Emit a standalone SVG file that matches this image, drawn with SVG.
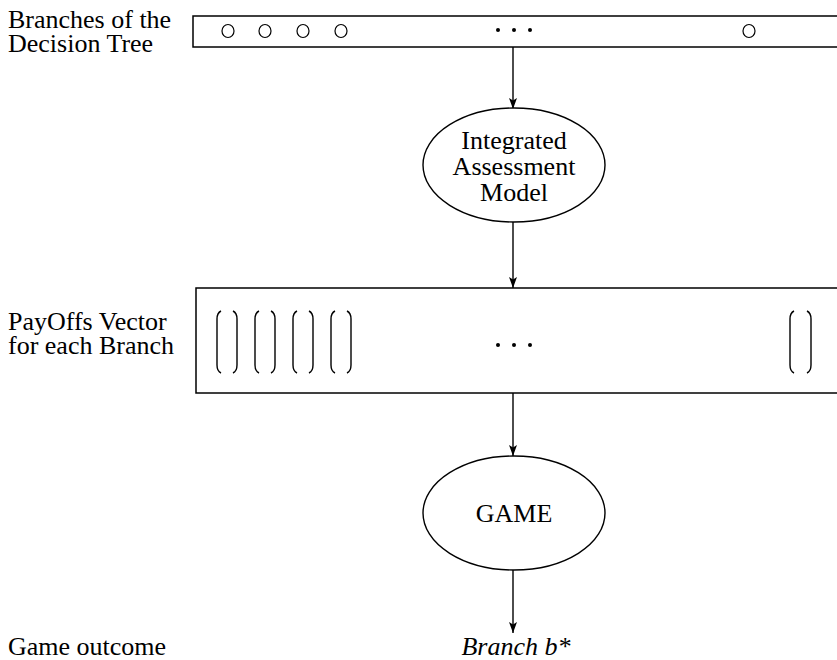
<svg xmlns="http://www.w3.org/2000/svg" width="837" height="660" viewBox="0 0 837 660">
<style>
text{font-family:"Liberation Serif","Times New Roman",serif;font-size:26px;fill:#000}
.c{text-anchor:middle}
.box{fill:#fff;stroke:#000;stroke-width:1.5}
.ell{fill:#fff;stroke:#000;stroke-width:1.4}
.circ{fill:none;stroke:#000;stroke-width:1.2}
.par{fill:none;stroke:#000;stroke-width:1.4}
.edge{stroke:#000;stroke-width:1.4;fill:none;marker-end:url(#arr)}
</style>
<defs>
<marker id="arr" markerWidth="12" markerHeight="12" viewBox="0 0 12 12" refX="11" refY="6" orient="auto" markerUnits="userSpaceOnUse">
<path d="M0,2 L11,6 L0,10 L2.5,6 Z" fill="#000"/>
</marker>
</defs>
<g id="labels">
<text x="8" y="28">Branches of the</text>
<text x="8" y="52">Decision Tree</text>
<text x="8" y="330">PayOffs Vector</text>
<text x="8" y="354">for each Branch</text>
<text x="8" y="655">Game outcome</text>
</g>
<g id="connectors">
<line class="edge" x1="513" y1="47" x2="513" y2="109"/>
<line class="edge" x1="513" y1="222" x2="513" y2="288"/>
<line class="edge" x1="513" y1="393" x2="513" y2="456"/>
<line class="edge" x1="513" y1="570" x2="513" y2="633"/>
</g>
<g id="branches">
<rect class="box" x="193" y="16" width="660" height="31"/>
<ellipse class="circ" cx="228" cy="31" rx="6" ry="6.5"/>
<ellipse class="circ" cx="265" cy="31" rx="6" ry="6.5"/>
<ellipse class="circ" cx="303" cy="31" rx="6" ry="6.5"/>
<ellipse class="circ" cx="341" cy="31" rx="6" ry="6.5"/>
<ellipse class="circ" cx="749" cy="31" rx="6" ry="6.5"/>
<circle cx="498" cy="30" r="2"/>
<circle cx="514" cy="30" r="2"/>
<circle cx="530" cy="30" r="2"/>
</g>
<g id="iam">
<ellipse class="ell" cx="514" cy="165" rx="91" ry="57"/>
<text class="c" x="514" y="149">Integrated</text>
<text class="c" x="514" y="175">Assessment</text>
<text class="c" x="514" y="201">Model</text>
</g>
<g id="payoffs">
<rect class="box" x="196" y="288" width="660" height="105"/>
<path class="par" d="M221,311 Q217,313 217,319 L217,365 Q217,371 221,373 M233,311 Q237,313 237,319 L237,365 Q237,371 233,373"/>
<path class="par" d="M259,311 Q255,313 255,319 L255,365 Q255,371 259,373 M271,311 Q275,313 275,319 L275,365 Q275,371 271,373"/>
<path class="par" d="M297,311 Q293,313 293,319 L293,365 Q293,371 297,373 M309,311 Q313,313 313,319 L313,365 Q313,371 309,373"/>
<path class="par" d="M335,311 Q331,313 331,319 L331,365 Q331,371 335,373 M347,311 Q351,313 351,319 L351,365 Q351,371 347,373"/>
<path class="par" d="M794,311 Q790,313 790,319 L790,365 Q790,371 794,373 M807,311 Q811,313 811,319 L811,365 Q811,371 807,373"/>
<circle cx="498" cy="345" r="2"/>
<circle cx="514" cy="345" r="2"/>
<circle cx="530" cy="345" r="2"/>
</g>
<g id="game">
<ellipse class="ell" cx="514" cy="513" rx="91" ry="57"/>
<text class="c" x="514" y="522">GAME</text>
</g>
<g id="outcome">
<text class="c" x="516" y="655" font-style="italic">Branch b*</text>
</g>
</svg>
